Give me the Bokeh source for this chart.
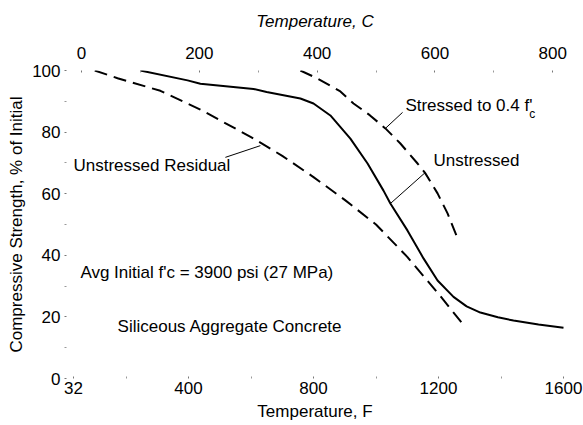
from bokeh.plotting import figure
from bokeh.models import Range1d, LinearAxis, FixedTicker, Label
from bokeh.embed import file_html
from bokeh.resources import INLINE

# Temperature in deg F, strength in % of initial
residual_f = [100, 173, 310, 438, 600, 700, 800, 900, 1000, 1100, 1200, 1283]
residual_pct = [100, 97.5, 93.4, 87.3, 78.4, 72.3, 65.4, 58, 50, 39.5, 27.5, 17]

unstressed_f = [246, 397, 438, 608, 650, 758, 800, 854, 918, 973, 1024, 1046,
                1101, 1152, 1197, 1248, 1290, 1334, 1390, 1440, 1520, 1600]
unstressed_pct = [100, 96.8, 95.7, 94, 93, 90.9, 89.3, 85.4, 77.9, 69.8, 61, 56.8,
                  48, 39, 31.8, 26.5, 23.4, 21.4, 19.9, 18.8, 17.5, 16.5]

stressed_f = [758, 813, 886, 928, 980, 1030, 1078, 1133, 1158, 1197, 1229, 1261]
stressed_pct = [100, 97.4, 93.2, 89.3, 85.5, 81.2, 76.3, 69.8, 66.6, 60.1, 53.6, 45.5]

f_ticks = [32, 400, 800, 1200, 1600]
f_minor = [200, 600, 1000, 1400]
c_ticks = [0, 200, 400, 600, 800]
c_minor = [100, 300, 500, 700]
y_ticks = [0, 20, 40, 60, 80, 100]
y_minor = [10, 30, 50, 70, 90]

FONT = "Liberation Sans"
FS = "17px"

p = figure(width=583, height=425, output_backend="svg", toolbar_location=None,
           x_range=Range1d(3.2, 1606.4), y_range=Range1d(0, 100),
           min_border_left=64, min_border_right=18, min_border_top=70,
           min_border_bottom=47, x_axis_location="below")
p.extra_x_ranges = {"C": Range1d(-28.9, 821.7)}
p.grid.visible = False
p.outline_line_color = None
p.background_fill_color = "white"
p.border_fill_color = "white"


def style_axis(ax):
    ax.axis_line_color = None
    ax.major_tick_in = 2
    ax.major_tick_out = 0
    ax.minor_tick_in = 2
    ax.minor_tick_out = 0
    ax.major_tick_line_color = "#777777"
    ax.minor_tick_line_color = "#999999"
    ax.major_label_text_font = FONT
    ax.major_label_text_font_size = FS
    ax.major_label_text_color = "black"
    ax.axis_label_text_font = FONT
    ax.axis_label_text_font_size = FS
    ax.axis_label_text_color = "black"
    ax.axis_label_text_font_style = "normal"


xb = p.xaxis[0]
style_axis(xb)
xb.ticker = FixedTicker(ticks=f_ticks, minor_ticks=f_minor)
xb.axis_label = "Temperature, F"
xb.major_label_standoff = 3
xb.axis_label_standoff = 5

yl = p.yaxis[0]
style_axis(yl)
yl.ticker = FixedTicker(ticks=y_ticks, minor_ticks=y_minor)
yl.axis_label = "Compressive Strength, % of Initial"
yl.major_label_standoff = 4
yl.axis_label_standoff = 3

xt = LinearAxis(x_range_name="C")
style_axis(xt)
xt.ticker = FixedTicker(ticks=c_ticks, minor_ticks=c_minor)
xt.axis_label = "Temperature, C"
xt.axis_label_text_font_style = "italic"
xt.major_label_standoff = 12
xt.axis_label_standoff = 13
p.add_layout(xt, "above")

# curves
p.line(residual_f, residual_pct, line_color="black", line_width=2, line_dash="13 7")
p.line(unstressed_f, unstressed_pct, line_color="black", line_width=2,
       line_join="round")
p.line(stressed_f, stressed_pct, line_color="black", line_width=2, line_dash="13 7")

# leader lines from labels to curves
p.line([1085, 1030], [86.4, 81.2], line_color="black", line_width=1)
p.line([1158, 1046], [66.9, 56.8], line_color="black", line_width=1)
p.line([518, 630], [71.8, 75.6], line_color="black", line_width=1)


def note(x, y, txt, size=FS):
    p.add_layout(Label(x=x, y=y, text=txt, text_font=FONT, text_font_size=size,
                       text_color="black", text_align="left",
                       text_baseline="middle"))


note(1094, 88.6, "Stressed to 0.4 f'")
note(1490, 86.0, "c", size="12px")
note(1184, 70.8, "Unstressed")
note(32, 69.2, "Unstressed Residual")
note(54, 34.4, "Avg Initial f'c = 3900 psi (27 MPa)")
note(173, 16.9, "Siliceous Aggregate Concrete")

open("out.html", "w").write(file_html(p, INLINE))
